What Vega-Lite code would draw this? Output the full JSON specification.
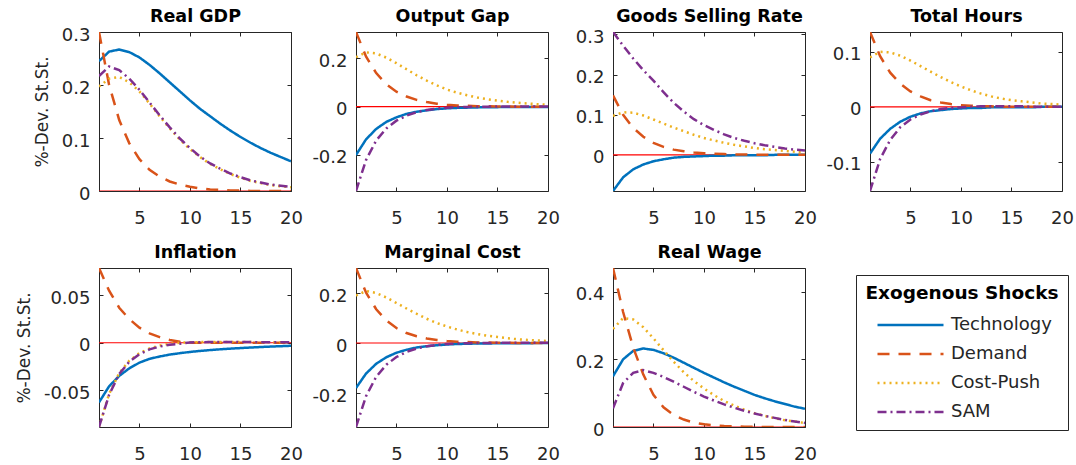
{
  "$schema": "https://vega.github.io/schema/vega-lite/v6.json",
  "padding": {"left": 14, "top": 6, "right": 2, "bottom": 0},
  "background": "white",
  "columns": 4,
  "spacing": {"row": 77, "column": 65},
  "bounds": "flush",
  "datasets": {
    "rg": [
      {"t":1,"Technology":0.245,"Demand":0.300,"Cost-Push":0.197,"SAM":0.217},
      {"t":2,"Technology":0.263,"Demand":0.200,"Cost-Push":0.212,"SAM":0.235},
      {"t":3,"Technology":0.267,"Demand":0.134,"Cost-Push":0.215,"SAM":0.228},
      {"t":4,"Technology":0.262,"Demand":0.090,"Cost-Push":0.205,"SAM":0.212},
      {"t":5,"Technology":0.252,"Demand":0.060,"Cost-Push":0.188,"SAM":0.191},
      {"t":6,"Technology":0.238,"Demand":0.040,"Cost-Push":0.165,"SAM":0.167},
      {"t":7,"Technology":0.222,"Demand":0.027,"Cost-Push":0.141,"SAM":0.143},
      {"t":8,"Technology":0.205,"Demand":0.018,"Cost-Push":0.118,"SAM":0.120},
      {"t":9,"Technology":0.188,"Demand":0.012,"Cost-Push":0.097,"SAM":0.099},
      {"t":10,"Technology":0.171,"Demand":0.008,"Cost-Push":0.079,"SAM":0.081},
      {"t":11,"Technology":0.155,"Demand":0.005,"Cost-Push":0.064,"SAM":0.065},
      {"t":12,"Technology":0.141,"Demand":0.003,"Cost-Push":0.051,"SAM":0.052},
      {"t":13,"Technology":0.127,"Demand":0.002,"Cost-Push":0.041,"SAM":0.042},
      {"t":14,"Technology":0.114,"Demand":0.001,"Cost-Push":0.032,"SAM":0.033},
      {"t":15,"Technology":0.102,"Demand":0.001,"Cost-Push":0.025,"SAM":0.026},
      {"t":16,"Technology":0.091,"Demand":0.000,"Cost-Push":0.019,"SAM":0.020},
      {"t":17,"Technology":0.081,"Demand":0.000,"Cost-Push":0.015,"SAM":0.016},
      {"t":18,"Technology":0.072,"Demand":0.000,"Cost-Push":0.011,"SAM":0.012},
      {"t":19,"Technology":0.064,"Demand":0.000,"Cost-Push":0.009,"SAM":0.010},
      {"t":20,"Technology":0.056,"Demand":0.000,"Cost-Push":0.007,"SAM":0.008}
    ],
    "og": [
      {"t":1,"Technology":-0.200,"Demand":0.309,"Cost-Push":0.205,"SAM":-0.349},
      {"t":2,"Technology":-0.135,"Demand":0.207,"Cost-Push":0.225,"SAM":-0.220},
      {"t":3,"Technology":-0.092,"Demand":0.139,"Cost-Push":0.220,"SAM":-0.140},
      {"t":4,"Technology":-0.063,"Demand":0.093,"Cost-Push":0.203,"SAM":-0.090},
      {"t":5,"Technology":-0.044,"Demand":0.062,"Cost-Push":0.180,"SAM":-0.058},
      {"t":6,"Technology":-0.030,"Demand":0.042,"Cost-Push":0.155,"SAM":-0.037},
      {"t":7,"Technology":-0.021,"Demand":0.028,"Cost-Push":0.130,"SAM":-0.023},
      {"t":8,"Technology":-0.015,"Demand":0.019,"Cost-Push":0.108,"SAM":-0.014},
      {"t":9,"Technology":-0.010,"Demand":0.012,"Cost-Push":0.088,"SAM":-0.008},
      {"t":10,"Technology":-0.007,"Demand":0.008,"Cost-Push":0.071,"SAM":-0.004},
      {"t":11,"Technology":-0.005,"Demand":0.005,"Cost-Push":0.058,"SAM":-0.002},
      {"t":12,"Technology":-0.004,"Demand":0.004,"Cost-Push":0.047,"SAM":-0.001},
      {"t":13,"Technology":-0.003,"Demand":0.002,"Cost-Push":0.038,"SAM":0.000},
      {"t":14,"Technology":-0.002,"Demand":0.002,"Cost-Push":0.031,"SAM":0.000},
      {"t":15,"Technology":-0.002,"Demand":0.001,"Cost-Push":0.025,"SAM":0.001},
      {"t":16,"Technology":-0.001,"Demand":0.001,"Cost-Push":0.020,"SAM":0.001},
      {"t":17,"Technology":-0.001,"Demand":0.000,"Cost-Push":0.016,"SAM":0.001},
      {"t":18,"Technology":-0.001,"Demand":0.000,"Cost-Push":0.013,"SAM":0.001},
      {"t":19,"Technology":-0.001,"Demand":0.000,"Cost-Push":0.010,"SAM":0.001},
      {"t":20,"Technology":-0.001,"Demand":0.000,"Cost-Push":0.008,"SAM":0.001}
    ],
    "gs": [
      {"t":1,"Technology":-0.090,"Demand":0.148,"Cost-Push":0.097,"SAM":0.306},
      {"t":2,"Technology":-0.056,"Demand":0.100,"Cost-Push":0.106,"SAM":0.272},
      {"t":3,"Technology":-0.036,"Demand":0.067,"Cost-Push":0.105,"SAM":0.240},
      {"t":4,"Technology":-0.024,"Demand":0.045,"Cost-Push":0.098,"SAM":0.211},
      {"t":5,"Technology":-0.016,"Demand":0.030,"Cost-Push":0.088,"SAM":0.185},
      {"t":6,"Technology":-0.011,"Demand":0.020,"Cost-Push":0.078,"SAM":0.156},
      {"t":7,"Technology":-0.007,"Demand":0.013,"Cost-Push":0.068,"SAM":0.130},
      {"t":8,"Technology":-0.005,"Demand":0.009,"Cost-Push":0.059,"SAM":0.108},
      {"t":9,"Technology":-0.004,"Demand":0.006,"Cost-Push":0.050,"SAM":0.089},
      {"t":10,"Technology":-0.003,"Demand":0.004,"Cost-Push":0.042,"SAM":0.074},
      {"t":11,"Technology":-0.002,"Demand":0.003,"Cost-Push":0.036,"SAM":0.062},
      {"t":12,"Technology":-0.002,"Demand":0.002,"Cost-Push":0.030,"SAM":0.051},
      {"t":13,"Technology":-0.001,"Demand":0.001,"Cost-Push":0.025,"SAM":0.042},
      {"t":14,"Technology":-0.001,"Demand":0.001,"Cost-Push":0.021,"SAM":0.035},
      {"t":15,"Technology":-0.001,"Demand":0.000,"Cost-Push":0.017,"SAM":0.029},
      {"t":16,"Technology":-0.001,"Demand":0.000,"Cost-Push":0.014,"SAM":0.024},
      {"t":17,"Technology":0.000,"Demand":0.000,"Cost-Push":0.012,"SAM":0.020},
      {"t":18,"Technology":0.000,"Demand":0.000,"Cost-Push":0.010,"SAM":0.016},
      {"t":19,"Technology":0.000,"Demand":0.000,"Cost-Push":0.008,"SAM":0.013},
      {"t":20,"Technology":0.000,"Demand":0.000,"Cost-Push":0.006,"SAM":0.011}
    ],
    "th": [
      {"t":1,"Technology":-0.085,"Demand":0.136,"Cost-Push":0.090,"SAM":-0.153},
      {"t":2,"Technology":-0.058,"Demand":0.092,"Cost-Push":0.100,"SAM":-0.095},
      {"t":3,"Technology":-0.040,"Demand":0.062,"Cost-Push":0.099,"SAM":-0.060},
      {"t":4,"Technology":-0.027,"Demand":0.042,"Cost-Push":0.093,"SAM":-0.037},
      {"t":5,"Technology":-0.018,"Demand":0.028,"Cost-Push":0.084,"SAM":-0.023},
      {"t":6,"Technology":-0.012,"Demand":0.019,"Cost-Push":0.074,"SAM":-0.014},
      {"t":7,"Technology":-0.008,"Demand":0.012,"Cost-Push":0.064,"SAM":-0.008},
      {"t":8,"Technology":-0.006,"Demand":0.008,"Cost-Push":0.054,"SAM":-0.004},
      {"t":9,"Technology":-0.004,"Demand":0.005,"Cost-Push":0.045,"SAM":-0.002},
      {"t":10,"Technology":-0.003,"Demand":0.003,"Cost-Push":0.037,"SAM":-0.001},
      {"t":11,"Technology":-0.002,"Demand":0.002,"Cost-Push":0.030,"SAM":0.000},
      {"t":12,"Technology":-0.002,"Demand":0.001,"Cost-Push":0.024,"SAM":0.001},
      {"t":13,"Technology":-0.001,"Demand":0.001,"Cost-Push":0.019,"SAM":0.001},
      {"t":14,"Technology":-0.001,"Demand":0.000,"Cost-Push":0.015,"SAM":0.001},
      {"t":15,"Technology":-0.001,"Demand":0.000,"Cost-Push":0.012,"SAM":0.001},
      {"t":16,"Technology":-0.001,"Demand":0.000,"Cost-Push":0.010,"SAM":0.001},
      {"t":17,"Technology":-0.001,"Demand":0.000,"Cost-Push":0.008,"SAM":0.000},
      {"t":18,"Technology":0.000,"Demand":0.000,"Cost-Push":0.006,"SAM":0.000},
      {"t":19,"Technology":0.000,"Demand":0.000,"Cost-Push":0.005,"SAM":0.000},
      {"t":20,"Technology":0.000,"Demand":0.000,"Cost-Push":0.004,"SAM":0.000}
    ],
    "inf": [
      {"t":1,"Technology":-0.063,"Demand":0.079,"Cost-Push":-0.089,"SAM":-0.089},
      {"t":2,"Technology":-0.046,"Demand":0.055,"Cost-Push":-0.054,"SAM":-0.055},
      {"t":3,"Technology":-0.035,"Demand":0.037,"Cost-Push":-0.032,"SAM":-0.033},
      {"t":4,"Technology":-0.027,"Demand":0.025,"Cost-Push":-0.019,"SAM":-0.020},
      {"t":5,"Technology":-0.021,"Demand":0.016,"Cost-Push":-0.011,"SAM":-0.012},
      {"t":6,"Technology":-0.017,"Demand":0.010,"Cost-Push":-0.006,"SAM":-0.007},
      {"t":7,"Technology":-0.0145,"Demand":0.006,"Cost-Push":-0.003,"SAM":-0.004},
      {"t":8,"Technology":-0.0125,"Demand":0.003,"Cost-Push":-0.001,"SAM":-0.002},
      {"t":9,"Technology":-0.011,"Demand":0.001,"Cost-Push":0.000,"SAM":-0.001},
      {"t":10,"Technology":-0.0097,"Demand":0.000,"Cost-Push":0.0005,"SAM":0.0003},
      {"t":11,"Technology":-0.0086,"Demand":0.000,"Cost-Push":0.0007,"SAM":0.0006},
      {"t":12,"Technology":-0.0077,"Demand":0.000,"Cost-Push":0.0008,"SAM":0.0007},
      {"t":13,"Technology":-0.0069,"Demand":0.000,"Cost-Push":0.0008,"SAM":0.0008},
      {"t":14,"Technology":-0.0062,"Demand":0.000,"Cost-Push":0.0008,"SAM":0.0008},
      {"t":15,"Technology":-0.0056,"Demand":0.000,"Cost-Push":0.0007,"SAM":0.0007},
      {"t":16,"Technology":-0.0050,"Demand":0.000,"Cost-Push":0.0007,"SAM":0.0007},
      {"t":17,"Technology":-0.0045,"Demand":0.000,"Cost-Push":0.0006,"SAM":0.0006},
      {"t":18,"Technology":-0.0040,"Demand":0.000,"Cost-Push":0.0005,"SAM":0.0005},
      {"t":19,"Technology":-0.0036,"Demand":0.000,"Cost-Push":0.0005,"SAM":0.0005},
      {"t":20,"Technology":-0.0032,"Demand":0.000,"Cost-Push":0.0004,"SAM":0.0004}
    ],
    "mc": [
      {"t":1,"Technology":-0.180,"Demand":0.300,"Cost-Push":0.190,"SAM":-0.336},
      {"t":2,"Technology":-0.122,"Demand":0.201,"Cost-Push":0.208,"SAM":-0.212},
      {"t":3,"Technology":-0.083,"Demand":0.135,"Cost-Push":0.200,"SAM":-0.135},
      {"t":4,"Technology":-0.057,"Demand":0.090,"Cost-Push":0.182,"SAM":-0.087},
      {"t":5,"Technology":-0.039,"Demand":0.060,"Cost-Push":0.160,"SAM":-0.056},
      {"t":6,"Technology":-0.027,"Demand":0.040,"Cost-Push":0.138,"SAM":-0.036},
      {"t":7,"Technology":-0.018,"Demand":0.027,"Cost-Push":0.117,"SAM":-0.022},
      {"t":8,"Technology":-0.013,"Demand":0.018,"Cost-Push":0.097,"SAM":-0.013},
      {"t":9,"Technology":-0.009,"Demand":0.012,"Cost-Push":0.080,"SAM":-0.008},
      {"t":10,"Technology":-0.006,"Demand":0.008,"Cost-Push":0.066,"SAM":-0.004},
      {"t":11,"Technology":-0.004,"Demand":0.005,"Cost-Push":0.054,"SAM":-0.002},
      {"t":12,"Technology":-0.003,"Demand":0.004,"Cost-Push":0.044,"SAM":-0.001},
      {"t":13,"Technology":-0.002,"Demand":0.002,"Cost-Push":0.036,"SAM":0.000},
      {"t":14,"Technology":-0.002,"Demand":0.002,"Cost-Push":0.029,"SAM":0.000},
      {"t":15,"Technology":-0.001,"Demand":0.001,"Cost-Push":0.024,"SAM":0.001},
      {"t":16,"Technology":-0.001,"Demand":0.001,"Cost-Push":0.019,"SAM":0.001},
      {"t":17,"Technology":-0.001,"Demand":0.000,"Cost-Push":0.015,"SAM":0.001},
      {"t":18,"Technology":-0.001,"Demand":0.000,"Cost-Push":0.012,"SAM":0.001},
      {"t":19,"Technology":0.000,"Demand":0.000,"Cost-Push":0.010,"SAM":0.001},
      {"t":20,"Technology":0.000,"Demand":0.000,"Cost-Push":0.008,"SAM":0.001}
    ],
    "rw": [
      {"t":1,"Technology":0.150,"Demand":0.470,"Cost-Push":0.290,"SAM":0.055},
      {"t":2,"Technology":0.200,"Demand":0.340,"Cost-Push":0.322,"SAM":0.130},
      {"t":3,"Technology":0.225,"Demand":0.235,"Cost-Push":0.318,"SAM":0.160},
      {"t":4,"Technology":0.232,"Demand":0.155,"Cost-Push":0.295,"SAM":0.168},
      {"t":5,"Technology":0.228,"Demand":0.095,"Cost-Push":0.262,"SAM":0.160},
      {"t":6,"Technology":0.218,"Demand":0.058,"Cost-Push":0.227,"SAM":0.148},
      {"t":7,"Technology":0.205,"Demand":0.036,"Cost-Push":0.193,"SAM":0.134},
      {"t":8,"Technology":0.190,"Demand":0.022,"Cost-Push":0.162,"SAM":0.119},
      {"t":9,"Technology":0.175,"Demand":0.013,"Cost-Push":0.136,"SAM":0.104},
      {"t":10,"Technology":0.160,"Demand":0.008,"Cost-Push":0.114,"SAM":0.090},
      {"t":11,"Technology":0.146,"Demand":0.005,"Cost-Push":0.094,"SAM":0.078},
      {"t":12,"Technology":0.132,"Demand":0.003,"Cost-Push":0.077,"SAM":0.067},
      {"t":13,"Technology":0.119,"Demand":0.002,"Cost-Push":0.063,"SAM":0.057},
      {"t":14,"Technology":0.107,"Demand":0.001,"Cost-Push":0.051,"SAM":0.048},
      {"t":15,"Technology":0.095,"Demand":0.001,"Cost-Push":0.041,"SAM":0.040},
      {"t":16,"Technology":0.085,"Demand":0.000,"Cost-Push":0.033,"SAM":0.033},
      {"t":17,"Technology":0.076,"Demand":0.000,"Cost-Push":0.026,"SAM":0.027},
      {"t":18,"Technology":0.068,"Demand":0.000,"Cost-Push":0.020,"SAM":0.021},
      {"t":19,"Technology":0.060,"Demand":0.000,"Cost-Push":0.016,"SAM":0.016},
      {"t":20,"Technology":0.054,"Demand":0.000,"Cost-Push":0.012,"SAM":0.012}
    ]
  },
  "concat": [
    {
      "data": {"name": "rg"},
      "transform": [{"fold": ["Technology", "Demand", "Cost-Push", "SAM"], "as": ["shock", "v"]}],
      "layer": [
        {"mark": {"type": "line", "color": "#FF0000", "strokeWidth": 1.2, "clip": true},
         "encoding": {
           "x": {"field": "t", "type": "quantitative", "scale": {"domain": [1, 20], "nice": false}, "axis": {"orient": "top", "labels": false, "values": [5, 10, 15, 20], "title": "Real GDP", "titleFont": "DejaVu Sans", "titleFontSize": 17.5, "titleFontWeight": "bold", "titleColor": "#000000", "titleY": -11, "titleBaseline": "alphabetic"}},
           "y": {"datum": 0, "type": "quantitative", "scale": {"domain": [0, 0.3], "nice": false, "zero": false}, "axis": {"orient": "right", "labels": false, "title": null, "values": [0, 0.1, 0.2, 0.3]}}}},
        {"mark": {"type": "line", "strokeWidth": 2.5, "clip": true},
         "encoding": {
           "x": {"field": "t", "type": "quantitative", "scale": {"domain": [1, 20], "nice": false}, "axis": {"orient": "bottom", "title": null, "values": [5, 10, 15, 20]}},
           "y": {"field": "v", "type": "quantitative", "scale": {"domain": [0, 0.3], "nice": false, "zero": false}, "axis": {"orient": "left", "title": "%-Dev. St.St.", "values": [0, 0.1, 0.2, 0.3]}},
           "color": {"field": "shock", "type": "nominal", "title": "Exogenous Shocks", "scale": {"domain": ["Technology", "Demand", "Cost-Push", "SAM"], "range": ["#0072BD", "#D95319", "#EDB120", "#7E2F8E"]}, "legend": {"symbolType": "M-3,0H3"}},
           "strokeDash": {"field": "shock", "type": "nominal", "title": "Exogenous Shocks", "scale": {"domain": ["Technology", "Demand", "Cost-Push", "SAM"], "range": [[1, 0], [12, 9], [2, 4], [9, 4, 2, 4]]}, "legend": {"symbolType": "M-3,0H3"}}}}
      ],
      "resolve": {"axis": {"x": "independent", "y": "independent"}}
    },
    {
      "data": {"name": "og"},
      "transform": [{"fold": ["Technology", "Demand", "Cost-Push", "SAM"], "as": ["shock", "v"]}],
      "layer": [
        {"mark": {"type": "line", "color": "#FF0000", "strokeWidth": 1.2, "clip": true},
         "encoding": {
           "x": {"field": "t", "type": "quantitative", "scale": {"domain": [1, 20], "nice": false}, "axis": {"orient": "top", "labels": false, "values": [5, 10, 15, 20], "title": "Output Gap", "titleFont": "DejaVu Sans", "titleFontSize": 17.5, "titleFontWeight": "bold", "titleColor": "#000000", "titleY": -11, "titleBaseline": "alphabetic"}},
           "y": {"datum": 0, "type": "quantitative", "scale": {"domain": [-0.349, 0.309], "nice": false, "zero": false}, "axis": {"orient": "right", "labels": false, "title": null, "values": [-0.2, 0, 0.2]}}}},
        {"mark": {"type": "line", "strokeWidth": 2.5, "clip": true},
         "encoding": {
           "x": {"field": "t", "type": "quantitative", "scale": {"domain": [1, 20], "nice": false}, "axis": {"orient": "bottom", "title": null, "values": [5, 10, 15, 20]}},
           "y": {"field": "v", "type": "quantitative", "scale": {"domain": [-0.349, 0.309], "nice": false, "zero": false}, "axis": {"orient": "left", "title": null, "values": [-0.2, 0, 0.2]}},
           "color": {"field": "shock", "type": "nominal", "title": "Exogenous Shocks", "scale": {"domain": ["Technology", "Demand", "Cost-Push", "SAM"], "range": ["#0072BD", "#D95319", "#EDB120", "#7E2F8E"]}, "legend": {"symbolType": "M-3,0H3"}},
           "strokeDash": {"field": "shock", "type": "nominal", "title": "Exogenous Shocks", "scale": {"domain": ["Technology", "Demand", "Cost-Push", "SAM"], "range": [[1, 0], [12, 9], [2, 4], [9, 4, 2, 4]]}, "legend": {"symbolType": "M-3,0H3"}}}}
      ],
      "resolve": {"axis": {"x": "independent", "y": "independent"}}
    },
    {
      "data": {"name": "gs"},
      "transform": [{"fold": ["Technology", "Demand", "Cost-Push", "SAM"], "as": ["shock", "v"]}],
      "layer": [
        {"mark": {"type": "line", "color": "#FF0000", "strokeWidth": 1.2, "clip": true},
         "encoding": {
           "x": {"field": "t", "type": "quantitative", "scale": {"domain": [1, 20], "nice": false}, "axis": {"orient": "top", "labels": false, "values": [5, 10, 15, 20], "title": "Goods Selling Rate", "titleFont": "DejaVu Sans", "titleFontSize": 17.5, "titleFontWeight": "bold", "titleColor": "#000000", "titleY": -11, "titleBaseline": "alphabetic"}},
           "y": {"datum": 0, "type": "quantitative", "scale": {"domain": [-0.09, 0.306], "nice": false, "zero": false}, "axis": {"orient": "right", "labels": false, "title": null, "values": [0, 0.1, 0.2, 0.3]}}}},
        {"mark": {"type": "line", "strokeWidth": 2.5, "clip": true},
         "encoding": {
           "x": {"field": "t", "type": "quantitative", "scale": {"domain": [1, 20], "nice": false}, "axis": {"orient": "bottom", "title": null, "values": [5, 10, 15, 20]}},
           "y": {"field": "v", "type": "quantitative", "scale": {"domain": [-0.09, 0.306], "nice": false, "zero": false}, "axis": {"orient": "left", "title": null, "values": [0, 0.1, 0.2, 0.3]}},
           "color": {"field": "shock", "type": "nominal", "title": "Exogenous Shocks", "scale": {"domain": ["Technology", "Demand", "Cost-Push", "SAM"], "range": ["#0072BD", "#D95319", "#EDB120", "#7E2F8E"]}, "legend": {"symbolType": "M-3,0H3"}},
           "strokeDash": {"field": "shock", "type": "nominal", "title": "Exogenous Shocks", "scale": {"domain": ["Technology", "Demand", "Cost-Push", "SAM"], "range": [[1, 0], [12, 9], [2, 4], [9, 4, 2, 4]]}, "legend": {"symbolType": "M-3,0H3"}}}}
      ],
      "resolve": {"axis": {"x": "independent", "y": "independent"}}
    },
    {
      "data": {"name": "th"},
      "transform": [{"fold": ["Technology", "Demand", "Cost-Push", "SAM"], "as": ["shock", "v"]}],
      "layer": [
        {"mark": {"type": "line", "color": "#FF0000", "strokeWidth": 1.2, "clip": true},
         "encoding": {
           "x": {"field": "t", "type": "quantitative", "scale": {"domain": [1, 20], "nice": false}, "axis": {"orient": "top", "labels": false, "values": [5, 10, 15, 20], "title": "Total Hours", "titleFont": "DejaVu Sans", "titleFontSize": 17.5, "titleFontWeight": "bold", "titleColor": "#000000", "titleY": -11, "titleBaseline": "alphabetic"}},
           "y": {"datum": 0, "type": "quantitative", "scale": {"domain": [-0.153, 0.136], "nice": false, "zero": false}, "axis": {"orient": "right", "labels": false, "title": null, "values": [-0.1, 0, 0.1]}}}},
        {"mark": {"type": "line", "strokeWidth": 2.5, "clip": true},
         "encoding": {
           "x": {"field": "t", "type": "quantitative", "scale": {"domain": [1, 20], "nice": false}, "axis": {"orient": "bottom", "title": null, "values": [5, 10, 15, 20]}},
           "y": {"field": "v", "type": "quantitative", "scale": {"domain": [-0.153, 0.136], "nice": false, "zero": false}, "axis": {"orient": "left", "title": null, "values": [-0.1, 0, 0.1]}},
           "color": {"field": "shock", "type": "nominal", "title": "Exogenous Shocks", "scale": {"domain": ["Technology", "Demand", "Cost-Push", "SAM"], "range": ["#0072BD", "#D95319", "#EDB120", "#7E2F8E"]}, "legend": {"symbolType": "M-3,0H3"}},
           "strokeDash": {"field": "shock", "type": "nominal", "title": "Exogenous Shocks", "scale": {"domain": ["Technology", "Demand", "Cost-Push", "SAM"], "range": [[1, 0], [12, 9], [2, 4], [9, 4, 2, 4]]}, "legend": {"symbolType": "M-3,0H3"}}}}
      ],
      "resolve": {"axis": {"x": "independent", "y": "independent"}}
    },
    {
      "data": {"name": "inf"},
      "transform": [{"fold": ["Technology", "Demand", "Cost-Push", "SAM"], "as": ["shock", "v"]}],
      "layer": [
        {"mark": {"type": "line", "color": "#FF0000", "strokeWidth": 1.2, "clip": true},
         "encoding": {
           "x": {"field": "t", "type": "quantitative", "scale": {"domain": [1, 20], "nice": false}, "axis": {"orient": "top", "labels": false, "values": [5, 10, 15, 20], "title": "Inflation", "titleFont": "DejaVu Sans", "titleFontSize": 17.5, "titleFontWeight": "bold", "titleColor": "#000000", "titleY": -11, "titleBaseline": "alphabetic"}},
           "y": {"datum": 0, "type": "quantitative", "scale": {"domain": [-0.089, 0.079], "nice": false, "zero": false}, "axis": {"orient": "right", "labels": false, "title": null, "values": [-0.05, 0, 0.05]}}}},
        {"mark": {"type": "line", "strokeWidth": 2.5, "clip": true},
         "encoding": {
           "x": {"field": "t", "type": "quantitative", "scale": {"domain": [1, 20], "nice": false}, "axis": {"orient": "bottom", "title": null, "values": [5, 10, 15, 20]}},
           "y": {"field": "v", "type": "quantitative", "scale": {"domain": [-0.089, 0.079], "nice": false, "zero": false}, "axis": {"orient": "left", "title": "%-Dev. St.St.", "values": [-0.05, 0, 0.05]}},
           "color": {"field": "shock", "type": "nominal", "title": "Exogenous Shocks", "scale": {"domain": ["Technology", "Demand", "Cost-Push", "SAM"], "range": ["#0072BD", "#D95319", "#EDB120", "#7E2F8E"]}, "legend": {"symbolType": "M-3,0H3"}},
           "strokeDash": {"field": "shock", "type": "nominal", "title": "Exogenous Shocks", "scale": {"domain": ["Technology", "Demand", "Cost-Push", "SAM"], "range": [[1, 0], [12, 9], [2, 4], [9, 4, 2, 4]]}, "legend": {"symbolType": "M-3,0H3"}}}}
      ],
      "resolve": {"axis": {"x": "independent", "y": "independent"}}
    },
    {
      "data": {"name": "mc"},
      "transform": [{"fold": ["Technology", "Demand", "Cost-Push", "SAM"], "as": ["shock", "v"]}],
      "layer": [
        {"mark": {"type": "line", "color": "#FF0000", "strokeWidth": 1.2, "clip": true},
         "encoding": {
           "x": {"field": "t", "type": "quantitative", "scale": {"domain": [1, 20], "nice": false}, "axis": {"orient": "top", "labels": false, "values": [5, 10, 15, 20], "title": "Marginal Cost", "titleFont": "DejaVu Sans", "titleFontSize": 17.5, "titleFontWeight": "bold", "titleColor": "#000000", "titleY": -11, "titleBaseline": "alphabetic"}},
           "y": {"datum": 0, "type": "quantitative", "scale": {"domain": [-0.336, 0.3], "nice": false, "zero": false}, "axis": {"orient": "right", "labels": false, "title": null, "values": [-0.2, 0, 0.2]}}}},
        {"mark": {"type": "line", "strokeWidth": 2.5, "clip": true},
         "encoding": {
           "x": {"field": "t", "type": "quantitative", "scale": {"domain": [1, 20], "nice": false}, "axis": {"orient": "bottom", "title": null, "values": [5, 10, 15, 20]}},
           "y": {"field": "v", "type": "quantitative", "scale": {"domain": [-0.336, 0.3], "nice": false, "zero": false}, "axis": {"orient": "left", "title": null, "values": [-0.2, 0, 0.2]}},
           "color": {"field": "shock", "type": "nominal", "title": "Exogenous Shocks", "scale": {"domain": ["Technology", "Demand", "Cost-Push", "SAM"], "range": ["#0072BD", "#D95319", "#EDB120", "#7E2F8E"]}, "legend": {"symbolType": "M-3,0H3"}},
           "strokeDash": {"field": "shock", "type": "nominal", "title": "Exogenous Shocks", "scale": {"domain": ["Technology", "Demand", "Cost-Push", "SAM"], "range": [[1, 0], [12, 9], [2, 4], [9, 4, 2, 4]]}, "legend": {"symbolType": "M-3,0H3"}}}}
      ],
      "resolve": {"axis": {"x": "independent", "y": "independent"}}
    },
    {
      "data": {"name": "rw"},
      "transform": [{"fold": ["Technology", "Demand", "Cost-Push", "SAM"], "as": ["shock", "v"]}],
      "layer": [
        {"mark": {"type": "line", "color": "#FF0000", "strokeWidth": 1.2, "clip": true},
         "encoding": {
           "x": {"field": "t", "type": "quantitative", "scale": {"domain": [1, 20], "nice": false}, "axis": {"orient": "top", "labels": false, "values": [5, 10, 15, 20], "title": "Real Wage", "titleFont": "DejaVu Sans", "titleFontSize": 17.5, "titleFontWeight": "bold", "titleColor": "#000000", "titleY": -11, "titleBaseline": "alphabetic"}},
           "y": {"datum": 0, "type": "quantitative", "scale": {"domain": [0, 0.47], "nice": false, "zero": false}, "axis": {"orient": "right", "labels": false, "title": null, "values": [0, 0.2, 0.4]}}}},
        {"mark": {"type": "line", "strokeWidth": 2.5, "clip": true},
         "encoding": {
           "x": {"field": "t", "type": "quantitative", "scale": {"domain": [1, 20], "nice": false}, "axis": {"orient": "bottom", "title": null, "values": [5, 10, 15, 20]}},
           "y": {"field": "v", "type": "quantitative", "scale": {"domain": [0, 0.47], "nice": false, "zero": false}, "axis": {"orient": "left", "title": null, "values": [0, 0.2, 0.4]}},
           "color": {"field": "shock", "type": "nominal", "title": "Exogenous Shocks", "scale": {"domain": ["Technology", "Demand", "Cost-Push", "SAM"], "range": ["#0072BD", "#D95319", "#EDB120", "#7E2F8E"]}, "legend": {"symbolType": "M-3,0H3"}},
           "strokeDash": {"field": "shock", "type": "nominal", "title": "Exogenous Shocks", "scale": {"domain": ["Technology", "Demand", "Cost-Push", "SAM"], "range": [[1, 0], [12, 9], [2, 4], [9, 4, 2, 4]]}, "legend": {"symbolType": "M-3,0H3"}}}}
      ],
      "resolve": {"axis": {"x": "independent", "y": "independent"}}
    }
  ],
  "config": {
    "font": "DejaVu Sans",
    "view": {"stroke": "#262626", "strokeWidth": 1, "continuousWidth": 192, "continuousHeight": 159},
    "axis": {
      "domain": false, "grid": false,
      "ticks": true, "tickSize": -4, "tickColor": "#262626", "tickWidth": 1,
      "labelFont": "DejaVu Sans", "labelFontSize": 18, "labelColor": "#262626",
      "labelFlush": false, "labelOverlap": false,
      "labelExpr": "'' + datum.value",
      "titleFont": "DejaVu Sans", "titleFontSize": 17, "titleFontWeight": "normal", "titleColor": "#262626", "titlePadding": 10
    },
    "axisX": {"labelPadding": 22},
    "axisY": {"labelPadding": 13, "labelOffset": 3},
    "legend": {
      "orient": "none", "legendX": 757, "legendY": 243,
      "strokeColor": "#262626", "fillColor": "#FFFFFF", "padding": 9,
      "titleFont": "DejaVu Sans", "titleFontSize": 18.5, "titleFontWeight": "bold", "titleColor": "#000000", "titlePadding": 10, "titleAnchor": "middle", "titleLimit": 400,
      "labelFont": "DejaVu Sans", "labelFontSize": 18, "labelColor": "#262626", "labelLimit": 300,
      "symbolType": "M-3,0H3", "symbolSize": 484, "symbolStrokeWidth": 2.5, "symbolOffset": 26, "labelOffset": 28,
      "rowPadding": 7
    }
  }
}
